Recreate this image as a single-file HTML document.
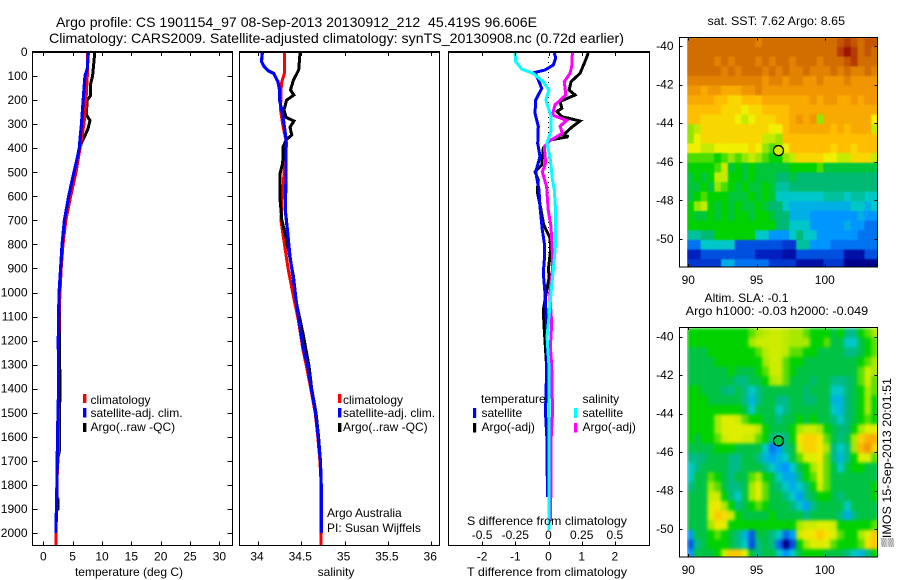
<!DOCTYPE html>
<html lang="en">
<head>
<meta charset="utf-8">
<title>Argo profile</title>
<style>
html,body{margin:0;padding:0;background:#fff;width:900px;height:580px;overflow:hidden}
svg{display:block}
text{font-family:"Liberation Sans",sans-serif;font-size:12px;fill:#000}
.title{font-size:14px}
</style>
</head>
<body>
<svg id="chart" xmlns="http://www.w3.org/2000/svg" width="900" height="580" viewBox="0 0 900 580">
<defs>
<filter id="sstBlur" filterUnits="userSpaceOnUse" x="680" y="30" width="205" height="245" color-interpolation-filters="sRGB"><feGaussianBlur stdDeviation="0.9" edgeMode="duplicate"/></filter>
<filter id="slaBlur" filterUnits="userSpaceOnUse" x="680" y="320" width="205" height="245" color-interpolation-filters="sRGB"><feGaussianBlur stdDeviation="1.7" edgeMode="duplicate"/></filter>
<clipPath id="sstClip"><rect x="687" y="37.5" width="190.5" height="229.5"/></clipPath>
<clipPath id="slaClip"><rect x="687" y="327" width="190.5" height="230"/></clipPath>
</defs>
<rect x="0" y="0" width="900" height="580" fill="#fff"/>
<text class="title" x="56" y="27" textLength="481" lengthAdjust="spacingAndGlyphs">Argo profile: CS 1901154_97 08-Sep-2013 20130912_212&#160; 45.419S 96.606E</text>
<text class="title" x="49" y="43" textLength="575" lengthAdjust="spacingAndGlyphs">Climatology: CARS2009. Satellite-adjusted climatology: synTS_20130908.nc (0.72d earlier)</text>

<g clip-path="url(#sstClip)"><g id="sstCells" filter="url(#sstBlur)"></g></g>
<g clip-path="url(#slaClip)"><g id="slaCells" filter="url(#slaBlur)"></g></g>
<g id="heatmaps"></g>
<g id="lines"></g>
<g id="ticks"></g>

<g fill="none" stroke="#000" stroke-width="1" shape-rendering="crispEdges">
<rect x="32.5" y="52.5" width="200" height="493"/>
<rect x="239.5" y="52.5" width="200" height="493"/>
<rect x="448.5" y="52.5" width="201" height="493"/>
<rect x="679.5" y="37.5" width="198" height="229.5"/>
<rect x="679.5" y="327.5" width="198" height="229.5"/>
<line x1="32" y1="51.5" x2="233" y2="51.5"/>
<line x1="239" y1="51.5" x2="440" y2="51.5"/>
<line x1="448" y1="51.5" x2="650" y2="51.5"/>
</g>

<text x="129" y="576" text-anchor="middle">temperature (deg C)</text>
<text x="336" y="576" text-anchor="middle">salinity</text>
<text x="467" y="576" textLength="160" lengthAdjust="spacingAndGlyphs">T difference from climatology</text>
<text x="467" y="525" textLength="160" lengthAdjust="spacingAndGlyphs">S difference from climatology</text>

<g>
<rect x="83" y="394" width="3.4" height="9" fill="#f00"/>
<rect x="83" y="408" width="3.4" height="9.5" fill="#00f"/>
<rect x="83" y="423" width="3.4" height="9" fill="#000"/>
<text x="90.5" y="404">climatology</text>
<text x="90.5" y="417">satellite-adj. clim.</text>
<text x="90.5" y="431">Argo(..raw -QC)</text>
</g>
<g>
<rect x="338" y="394" width="3.4" height="9" fill="#f00"/>
<rect x="338" y="408" width="3.4" height="9.5" fill="#00f"/>
<rect x="338" y="423" width="3.4" height="9" fill="#000"/>
<text x="343" y="404">climatology</text>
<text x="343" y="417">satellite-adj. clim.</text>
<text x="343" y="431">Argo(..raw -QC)</text>
</g>
<g>
<text x="481" y="403">temperature</text>
<text x="582.5" y="403">salinity</text>
<rect x="473" y="408" width="3.2" height="10" fill="#00f"/>
<rect x="473" y="423" width="3.2" height="9.5" fill="#000"/>
<rect x="574" y="408" width="3.2" height="10" fill="#0ff"/>
<rect x="574" y="423" width="3.2" height="9.5" fill="#f0f"/>
<text x="481.5" y="417">satellite</text>
<text x="481.5" y="431">Argo(-adj)</text>
<text x="582.5" y="417">satellite</text>
<text x="582.5" y="431">Argo(-adj)</text>
</g>
<text x="327" y="517">Argo Australia</text>
<text x="327" y="532">PI: Susan Wijffels</text>

<text x="707.5" y="25" textLength="137.5" lengthAdjust="spacingAndGlyphs">sat. SST: 7.62 Argo: 8.65</text>
<text x="704.5" y="302" textLength="84" lengthAdjust="spacingAndGlyphs">Altim. SLA: -0.1</text>
<text x="685.7" y="315" textLength="182.5" lengthAdjust="spacingAndGlyphs">Argo h1000: -0.03 h2000: -0.049</text>
<text transform="translate(891,547) rotate(-90)" textLength="169" lengthAdjust="spacingAndGlyphs">▒IMOS 15-Sep-2013 20:01:51</text>
</svg>

<script>
// ---- profile panel tick values ----
const depthTicks = [0,100,200,300,400,500,600,700,800,900,1000,1100,1200,1300,1400,1500,1600,1700,1800,1900,2000];
const temperatureTicks = [0,5,10,15,20,25,30];
const salinityTicks = [34,34.5,35,35.5,36];
const salinityTickLabels = ['34','34.5','35','35.5','36'];
const tDiffTicks = [-2,-1,0,1,2];
const tDiffTickLabels = ['-2','-1','0','1','2'];
const sDiffTicks = [-0.5,-0.25,0,0.25,0.5];
const sDiffTickLabels = ['-0.5','-0.25','0','0.25','0.5'];
const lonTicks = [90,95,100];
const latTicks = [-40,-42,-44,-46,-48,-50];

// ---- temperature panel (deg C vs depth) ----
const tempClimDepth = [0,100,200,300,400,500,600,700,800,900,1000,1100,1200,1400,1600,1660,1800,2000,2054];
const tempClimValue = [7.5,7.5,7.27,6.93,6.25,5.57,4.67,3.85,3.35,3.05,2.85,2.7,2.6,2.55,2.55,2.55,2.3,2.15,2.15];
const tempArgoDepth = [4,100,130,180,200,260,285,320,350,370,400,500,600,700,800,900,1000,1100,1200,1300,1400,1560,1660,1700,1850,1860,1900,1901];
const tempArgoValue = [8.75,8.4,8.07,8.07,7.5,7.3,7.95,7.6,7.05,6.65,6.2,5.35,4.4,3.75,3.3,3.0,2.8,2.75,2.75,2.8,2.85,2.72,2.72,2.4,2.3,2.5,2.5,2.25];
const tempSatDepth = [4,70,100,200,300,350,400,450,500,550,600,700,800,900,1000,1100,1200,1400,1600,1800,2000];
const tempSatValue = [7.67,7.5,7.1,6.8,6.5,6.3,6.14,5.7,5.23,4.77,4.32,3.6,3.2,2.95,2.7,2.6,2.55,2.6,2.42,2.33,2.15];

// ---- salinity panel (psu vs depth) ----
const salClimDepth = [4,89,130,241,310,380,505,698,810,906,1017,1114,1239,1308,1400,1500,1600,1700,1800,2054];
const salClimValue = [34.305,34.305,34.27,34.26,34.29,34.33,34.3,34.265,34.31,34.35,34.41,34.465,34.52,34.56,34.61,34.66,34.69,34.715,34.73,34.73];
const salArgoDepth = [4,75,116,158,179,200,241,272,287,313,345,366,394,462,505,615,698,782,934,1045,1170,1308,1400,1500,1600,1700,1800,1950];
const salArgoValue = [34.485,34.47,34.41,34.375,34.415,34.33,34.3,34.325,34.415,34.37,34.39,34.325,34.29,34.285,34.255,34.255,34.275,34.33,34.41,34.445,34.52,34.59,34.62,34.67,34.7,34.72,34.73,34.73];
const salSatDepth = [4,40,60,78,89,123,158,200,250,310,365,500,657,740,851,948,1045,1142,1225,1308,1400,1500,1600,1700,1800,2000];
const salSatValue = [34.05,34.04,34.07,34.12,34.18,34.23,34.25,34.25,34.28,34.305,34.325,34.325,34.315,34.34,34.37,34.41,34.445,34.485,34.52,34.575,34.615,34.665,34.695,34.72,34.73,34.73];

// ---- difference panel ----
const dTArgoDepth = [4,40,89,123,158,179,206,234,248,269,287,313,345,352,366,400,470,498,532,581,657,719,773,823,906,934,990,1073,1156,1300];
const dTArgoValue = [1.2,1.1,0.95,0.68,0.62,0.8,0.346,0.4,0.25,0.41,0.95,0.7,0.446,0.6,0.045,-0.157,-0.205,-0.407,-0.307,-0.337,-0.226,-0.145,0.045,0.066,-0.006,0.024,-0.054,-0.157,-0.127,-0.06];
const dSArgoDepth = [4,61,89,123,179,220,262,285,308,338,369,394,462,498,560,657,726,836,906,1002,1127,1225,1308,1500,1600,1800,1950];
const dSArgoValue = [0.18,0.175,0.162,0.119,0.13,0.049,0.029,0.137,0.087,0.104,0.011,-0.032,-0.021,-0.047,-0.014,-0.002,0.019,0.029,0.029,0.009,0.024,0.014,0.024,0.03,0.02,0.018,0.015];
const dTSatDepth = [4,25,54,75,85,116,151,200,255,310,380,435,498,574,643,740,795,865,919,1002,1085,1184,1308,1500,1600,1850];
const dTSatValue = [0.175,0.217,0.145,-0.105,-0.407,-0.307,-0.205,-0.386,-0.407,-0.307,-0.325,-0.256,-0.386,-0.286,-0.256,-0.187,-0.127,-0.127,-0.157,-0.105,-0.075,-0.045,-0.054,-0.09,-0.05,-0.03];
const dSSatDepth = [4,40,72,89,123,158,200,269,325,380,435,532,574,670,795,906,1002,1100,1184,1308,1500,1700,1987];
const dSSatValue = [-0.252,-0.247,-0.2,-0.115,-0.04,0.004,-0.02,0.02,0.02,-0.013,0.011,0.029,0.044,0.054,0.054,0.036,0.019,0.004,-0.011,0.004,0.004,0.002,0.002];

// ---- SST map, deg C, rows north to south, 0.5 degree cells ----
const sstGrid = [
[12,12,12,12,12,12,12,12,12,12,11.5,12,12,12,12,12,12,12,12,12,12,12,12.5,13,12.5,12,12.5,12.5],
[12,12,12,12,12,12,12,12,12,12,12,12,12,12,12,12,12,12,12,12,12,12,13,14,13,12,12.5,12],
[12,12,12,12,11.5,12,11.5,12,12,12,11.5,12,11.5,12,12,11.5,12,12,12,11.5,12,12,12,12.5,13,12,12,12],
[12,12,12,12,12,11.5,12,11.5,12,12,12,11.5,12,11.5,12,11.5,11.5,12,11.5,11.5,11.5,12,11.5,12,11.5,11.5,12,11.5],
[11.5,11.5,11.5,11.5,11.5,11.5,11.5,11.5,11.5,11.5,11.5,11,11.5,11.5,11,11.5,11.5,11,11,11.5,11,11,11,11.5,11,11,11,11],
[11,11,10.5,11,11,10.5,10.5,10.5,11,11,11.5,11,11,11,11,11,11,11,11,11,11,11,11,11,11,11,11,11],
[10.5,10.5,10.5,10.5,10,10,9.5,9.5,10,10,10,10.5,10.5,10.5,10.5,10.5,10.5,10.5,11,10.5,11,11,10.5,10.5,11,10.5,11,11],
[10,10,10,10,10,9.5,9.5,9.5,9,9.5,9.5,10,10,10,10,10.5,10.5,10.5,10.5,10.5,10.5,10.5,10.5,10.5,10.5,10.5,10.5,10.5],
[10,10,9.5,9.5,9.5,9.5,9.5,9,8.5,9,9.5,9.5,9.5,10,10,10.5,11,10.5,11,8,10.5,10.5,10.5,10.5,10.5,10.5,10.5,9],
[8,8.5,9.5,9.5,9.5,9.5,9.5,9.5,9.5,9.5,9.5,9.5,9,9,10,10.5,10.5,10.5,10.5,10.5,10.5,10,10.5,10,10.5,10.5,10.5,8.5],
[8,9,9.5,9.5,9.5,9.5,9.5,9.5,9.5,9.5,9.5,8.5,8.5,8,10,10,10,10,10,10,10,10,10,10,10,10,10,10],
[9,9,8.5,8.5,9,9,9,9,9,9.5,9,8,7.5,8,9,10,10,10,10,10,10,9.5,10,10,9.5,10,10,10],
[7.5,7.5,7.5,7.5,7,7.5,8,7.5,8,8.5,8,7.5,7,7,8,8.5,9.5,9.5,9.5,9.5,9,9,8.5,8.5,9.5,9.5,9.5,8.5],
[7,7,7,7,7.5,8.5,6.5,7,6.5,7,6.5,6.5,6.5,6.5,6.5,7,7,7,7,7.5,6.5,6.5,6.5,6.5,6.5,6.5,6.5,6.5],
[6.5,7,6.5,7,8.5,8.5,7,7,6.5,7,6.5,6.5,6.5,6,6,6.5,6,6,6,6,6,6,6,6,6,6,6,6],
[6.5,6.5,7,6.5,8,7.5,7,6.5,7,6.5,6.5,7,6.5,5.5,5.5,6,6,6,6,6,6,6,6,6,6,6,6,6],
[6.5,7,7.5,7,7,7,6.5,6.5,6.5,7,6.5,7,6.5,5,5,5,5,5,5,5,5.5,5.5,5.5,5,5.5,5.5,5,5],
[7,8,8.5,7,6.5,7,6.5,7,6.5,6.5,7,6.5,6,6,5,4.5,4.5,4.5,4.5,4.5,4.5,4.5,4.5,4.5,5,5,4.5,5],
[7,6.5,6.5,7,6.5,7,6.5,7,7,6.5,7,7,6.5,6,6,4.5,4.5,4.5,4,4,4,4,4,4,4,4.5,4,4],
[7,7,7,7,7,7,7,7,7,7,7,7,7,6,6,5,5,5,4,4,4,4,4,4.5,4,4,3.5,3.5],
[5.5,5.5,6,6,7,7,7,7,7,7,5,5,4,4,4,5,6,5,5,4,4,4,4,4,4,3.5,3.5,3.5],
[3.5,3.5,5,5,5,5,5,3,3,3,3,3,3,3,2.5,2.5,5.5,5.5,4,4,4,3.5,3.5,3.5,3.5,3.5,3.5,3.5],
[2,2,3,3,3,3,3,3,3,3,2,2,2,2,1.5,1.5,3,3,3,3,3,3,3,1.5,1.5,1.5,3,3],
[2.5,2.5,2.5,2.5,2.5,4.5,4.5,3.5,3.5,3.5,3.5,3.5,2.5,2.5,2.5,2.5,1.5,1.5,1.5,1.5,2.5,2.5,2.5,1,1,1,1,1]
];

// ---- sea level anomaly map, cm, rows north to south, 0.5 degree cells ----
const slaGrid = [
[0,0,0,0,0,0,0,0,0,3,6,7,8,8,7,6,6,3,0,0,0,-3,0,-6,-6,0,3,6],
[0,0,0,0,0,0,0,0,0,6,8,8,8,8,7,6,6,6,0,0,3,-3,-3,-10,-10,-3,0,3],
[-3,-3,-3,0,0,0,0,0,0,0,3,7,8,8,7,3,3,0,0,-3,-3,-3,-3,-6,-6,-3,0,3],
[-3,-3,-3,-3,0,0,0,0,0,0,0,6,8,8,3,0,0,-3,-3,-3,-3,-3,-3,-3,-3,0,3,6],
[-3,-3,-3,-3,-3,-3,0,-3,-3,-3,0,3,8,8,3,0,-3,-3,-3,-3,-3,-3,-3,-3,-3,3,8,6],
[-3,-3,-3,-3,-3,-3,-3,-6,-6,-3,-3,0,6,7,3,-3,-3,-3,-5,-3,-3,-6,-6,-5,-3,3,8,3],
[0,0,-3,-3,-3,-5,-6,-3,-6,-10,-6,-3,-3,-3,-3,-3,-3,-5,-3,-3,-3,-10,-10,-5,-3,0,6,3],
[0,0,0,-3,-3,-3,-3,-3,-6,-12,-6,-3,-3,-6,-6,-3,-3,-5,-5,-3,-3,-12,-12,-5,-3,0,6,0],
[0,0,0,0,0,0,0,0,-3,-10,-3,-3,-3,-10,-6,-3,-3,-3,-3,-3,-3,-10,-12,-5,-3,0,6,0],
[0,0,0,0,6,9,9,8,3,0,0,-3,-3,-6,-3,-3,0,-3,0,-3,-3,-6,-10,-5,-3,0,3,0],
[0,0,0,0,6,9,9,9,9,9,7,0,-3,-3,-3,0,6,8,8,6,0,-3,-5,-5,0,6,9,9],
[0,-3,0,0,3,8,9,9,8,8,3,0,-6,-10,-6,0,11,13,13,11,3,-3,-6,-3,6,13,17,17],
[-3,-3,-3,-3,0,0,0,-3,-3,-3,-3,-10,-17,-14,-6,-3,9,13,13,11,6,-6,-10,-6,6,16,20,13],
[-6,-6,-5,-3,-3,-3,-6,-6,-3,-3,-6,-12,-14,-12,-10,-3,3,9,9,11,3,-6,-12,-6,0,9,9,3],
[-10,-6,-3,-3,-3,-3,-6,-6,-3,-3,-3,-6,-10,-13,-15,-10,-3,0,6,9,3,-3,-10,-3,0,0,-3,-3],
[-10,-3,-3,3,0,-3,-6,-3,-3,3,6,0,-3,-10,-13,-13,-6,0,3,9,3,-3,-3,-3,-3,-3,-3,-3],
[-6,-3,-3,6,3,-3,-6,-6,-3,6,9,3,-3,-6,-10,-13,-10,-6,0,8,3,-3,-3,-3,-3,-3,-3,0],
[-3,-3,-3,8,8,0,-6,-10,-3,6,9,3,-3,-3,-6,-10,-14,-6,-3,0,0,-3,-6,-3,-3,-3,-3,0],
[-3,-3,-3,9,11,6,0,-6,-3,0,3,0,-3,-3,-3,-6,-10,-14,-6,-3,-3,-3,-3,-10,-3,-3,-3,-3],
[-3,-3,-3,9,14,12,8,0,-3,-3,-3,-3,0,-3,-3,-3,-3,-6,-3,-3,-3,-3,-6,-13,-6,-3,-3,-3],
[-3,-3,-3,6,11,9,0,0,0,0,0,0,0,0,0,0,6,8,8,9,9,8,0,0,0,0,0,3],
[-14,-3,-3,0,3,0,-3,-6,-12,-19,-3,-3,-6,-10,-18,-14,8,11,11,14,11,9,3,0,0,6,9,14],
[-19,-6,-3,0,0,0,-3,-6,-10,-20,-6,-3,-6,-18,-30,-20,0,6,9,9,9,3,0,0,0,3,12,14],
[-15,-3,-3,-3,0,8,14,14,9,-3,-6,-3,-3,-10,-15,-10,-3,0,0,0,-3,-3,-3,-6,-10,-12,-6,0]
];

// ---- float position and value at float ----
const floatLon = 96.606;
const floatLat = -45.419;
const floatSst = 8.65;
const floatSla = -3;

// ---- colour scale: SST deg C to colour ----
const paletteValues = [1,2,3,4,5,6,7,8,9,10,11,12,13,14];
const paletteColors = [[0,0,140],[0,32,192],[0,80,224],[0,150,255],[0,200,200],[0,185,115],[0,210,0],[150,230,0],[240,240,0],[255,190,0],[240,150,0],[210,110,0],[180,60,0],[160,20,0]];

const svgNS = 'http://www.w3.org/2000/svg';

// axis functions
function yDepth(d){ return 52 + d * 0.2405; }
function xTemp(t){ return 43.3 + t * 5.87; }
function xSal(s){ return 258 + (s - 34) * 86.6; }
function xDT(t){ return 548.5 + t * 33.2; }
function xDS(s){ return 548.5 + s * 132.8; }
function xLon(l){ return 688.3 + (l - 90) * 13.65; }
function ySstLat(l){ return 46 + (-40 - l) * 19.3; }
function ySlaLat(l){ return 336.7 + (-40 - l) * 19.23; }
function slaToScale(cm){ return 7 + cm / 5; }

function colorFor(v){
  const n = paletteValues.length;
  if (v <= paletteValues[0]) return 'rgb(' + paletteColors[0].join(',') + ')';
  if (v >= paletteValues[n - 1]) return 'rgb(' + paletteColors[n - 1].join(',') + ')';
  let i = 0;
  while (paletteValues[i + 1] < v) i++;
  const f = (v - paletteValues[i]) / (paletteValues[i + 1] - paletteValues[i]);
  const c = paletteColors[i].map(function(a, k){ return Math.round(a + (paletteColors[i + 1][k] - a) * f); });
  return 'rgb(' + c.join(',') + ')';
}

function make(tag, attrs, parent, text){
  const el = document.createElementNS(svgNS, tag);
  Object.keys(attrs).forEach(function(k){ el.setAttribute(k, attrs[k]); });
  if (text !== undefined) el.textContent = text;
  parent.appendChild(el);
  return el;
}

const heatLayer = document.getElementById('heatmaps');
const lineLayer = document.getElementById('lines');
const tickLayer = document.getElementById('ticks');

// heatmap cells
function drawGrid(grid, yFn, toScale, cellName, layer){
  const lon0 = 89.9, lat0 = -39.55, step = 0.5;
  grid.forEach(function(row, r){
    row.forEach(function(v, c){
      const x0 = xLon(lon0 + c * step), x1 = xLon(lon0 + (c + 1) * step);
      const y0 = yFn(lat0 - r * step), y1 = yFn(lat0 - (r + 1) * step);
      const el = make('rect', {x: x0, y: y0, width: x1 - x0 + 0.4, height: y1 - y0 + 0.4, fill: colorFor(toScale(v))}, layer);
      
      
    });
  });
}
drawGrid(sstGrid, ySstLat, function(v){ return v; }, 'sst-cell', document.getElementById('sstCells'));
drawGrid(slaGrid, ySlaLat, slaToScale, 'sla-cell', document.getElementById('slaCells'));

// float markers
const sstMarker = make('circle', {cx: xLon(floatLon), cy: ySstLat(floatLat), r: 5, fill: colorFor(floatSst), stroke: '#000', 'stroke-width': 1.3}, heatLayer);


const slaMarker = make('circle', {cx: xLon(floatLon), cy: ySlaLat(floatLat), r: 5, fill: colorFor(slaToScale(floatSla)), stroke: '#000', 'stroke-width': 1.3}, heatLayer);



// profile lines
function drawLine(depths, values, xFn, color, width, name){
  const pts = depths.map(function(d, i){ return xFn(values[i]).toFixed(1) + ',' + yDepth(d).toFixed(1); }).join(' ');
  const el = make('polyline', {points: pts, fill: 'none', stroke: color, 'stroke-width': width, 'stroke-linejoin': 'miter', 'shape-rendering': 'crispEdges'}, lineLayer);
  
  
}
drawLine(tempArgoDepth, tempArgoValue, xTemp, '#000', 3, 'temperature-argo-line');
drawLine(tempClimDepth, tempClimValue, xTemp, '#f00', 3, 'temperature-climatology-line');
drawLine(tempSatDepth, tempSatValue, xTemp, '#00f', 3.2, 'temperature-satellite-line');

drawLine(salClimDepth, salClimValue, xSal, '#f00', 3, 'salinity-climatology-line');
drawLine(salArgoDepth, salArgoValue, xSal, '#000', 3, 'salinity-argo-line');
drawLine(salSatDepth, salSatValue, xSal, '#00f', 3.2, 'salinity-satellite-line');

const zeroLine = make('line', {x1: xDT(0), x2: xDT(0), y1: yDepth(0), y2: yDepth(1000), stroke: '#000', 'stroke-width': 1, 'stroke-dasharray': '1 4'}, lineLayer);


drawLine(dTArgoDepth, dTArgoValue, xDT, '#000', 3, 't-difference-argo-line');
drawLine(dSArgoDepth, dSArgoValue, xDS, '#f0f', 3, 's-difference-argo-line');
drawLine(dTSatDepth, dTSatValue, xDT, '#00f', 3, 't-difference-satellite-line');
drawLine(dSSatDepth, dSSatValue, xDS, '#0ff', 3, 's-difference-satellite-line');

// ticks and tick labels
function vTicks(values, xFn, yTop, yBottom, len){
  values.forEach(function(v){
    const x = Math.round(xFn(v)) + 0.5;
    const a = make('line', {x1: x, x2: x, y1: yTop, y2: yTop + len, stroke: '#000', 'stroke-width': 1}, tickLayer);
    
    
    const b = make('line', {x1: x, x2: x, y1: yBottom, y2: yBottom - len, stroke: '#000', 'stroke-width': 1}, tickLayer);
    
    
  });
}
function hTicks(values, yFn, xLeft, xRight, len){
  values.forEach(function(v){
    const y = Math.round(yFn(v)) + 0.5;
    const a = make('line', {x1: xLeft, x2: xLeft + len, y1: y, y2: y, stroke: '#000', 'stroke-width': 1}, tickLayer);
    
    
    const b = make('line', {x1: xRight, x2: xRight - len, y1: y, y2: y, stroke: '#000', 'stroke-width': 1}, tickLayer);
    
    
  });
}
function xLabels(values, labels, xFn, y, name){
  values.forEach(function(v, i){
    const t = make('text', {x: xFn(v), y: y, 'text-anchor': 'middle'}, tickLayer, labels[i]);
    
    
  });
}
function yLabels(values, labels, yFn, x, name){
  values.forEach(function(v, i){
    const t = make('text', {x: x, y: yFn(v) + 4, 'text-anchor': 'end'}, tickLayer, labels[i]);
    
    
  });
}

vTicks(temperatureTicks, xTemp, 52, 545.5, 4);
hTicks(depthTicks, yDepth, 32.5, 232.5, 5);
vTicks(salinityTicks, xSal, 52, 545.5, 4);
vTicks(tDiffTicks, xDT, 52, 545.5, 4);
vTicks(sDiffTicks, xDS, 52, 545.5, 4);
xLabels(temperatureTicks, temperatureTicks.map(String), xTemp, 560.5, 'temperature-tick-label');
yLabels(depthTicks, depthTicks.map(String), yDepth, 27.5, 'depth-tick-label');
xLabels(salinityTicks, salinityTickLabels, function(v){ return xSal(v) - 1; }, 560.5, 'salinity-tick-label');
xLabels(tDiffTicks, tDiffTickLabels, xDT, 560.5, 't-difference-tick-label');
xLabels(sDiffTicks, sDiffTickLabels, xDS, 539, 's-difference-tick-label');

vTicks(lonTicks, xLon, 37.5, 267, 3);
hTicks(latTicks, ySstLat, 679.5, 877.5, 3);
xLabels(lonTicks, lonTicks.map(String), xLon, 284, 'sst-lon-tick-label');
yLabels(latTicks, latTicks.map(String), ySstLat, 673.5, 'sst-lat-tick-label');
vTicks(lonTicks, xLon, 327, 557, 3);
hTicks(latTicks, ySlaLat, 679.5, 877.5, 3);
xLabels(lonTicks, lonTicks.map(String), xLon, 574, 'sla-lon-tick-label');
yLabels(latTicks, latTicks.map(String), ySlaLat, 673.5, 'sla-lat-tick-label');
</script>
</body>
</html>
